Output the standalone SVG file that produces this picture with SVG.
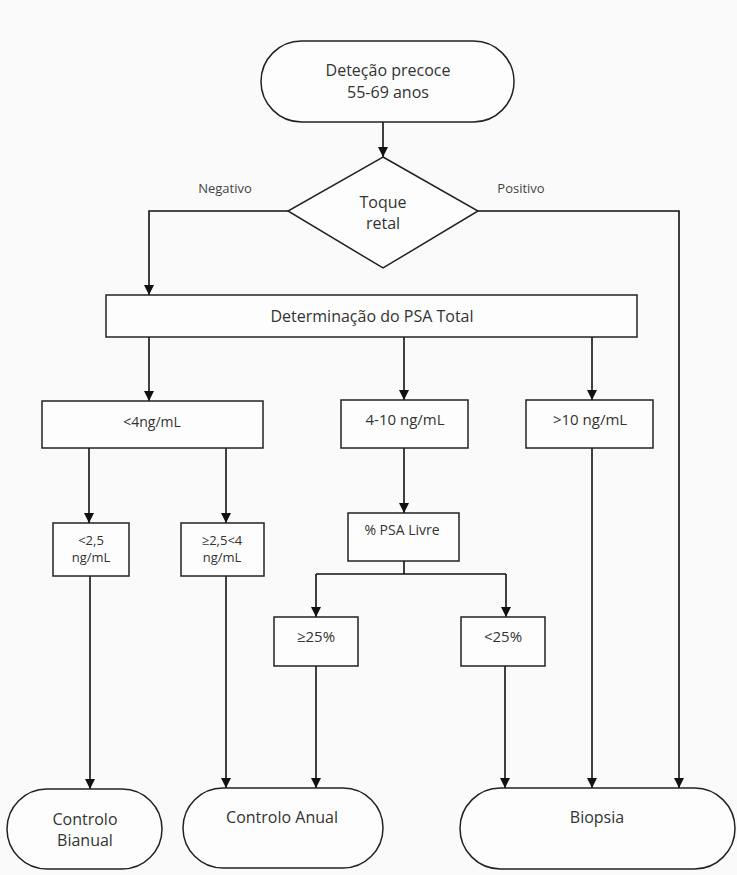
<svg xmlns="http://www.w3.org/2000/svg" width="737" height="875" viewBox="0 0 737 875">
  <defs>
    <marker id="arr" viewBox="0 0 10 10" refX="10" refY="5" markerWidth="10" markerHeight="10" markerUnits="userSpaceOnUse" orient="auto">
      <path d="M0,0 L10,5 L0,10 z" fill="#111"/>
    </marker>
    <style>
      .shape { fill: #fdfdfd; stroke: #222; stroke-width: 1.5; }
      .conn { fill: none; stroke: #111; stroke-width: 1.6; }
      .arrow { marker-end: url(#arr); }
      text { font-family: "Open Sans", "DejaVu Sans", sans-serif; fill: #333; text-anchor: middle; }
      .t16 { font-size: 16px; }
      .t15 { font-size: 15px; }
      .t14 { font-size: 14px; }
      .t13 { font-size: 13px; }
      .lbl { font-size: 13px; fill: #444; }
    </style>
  </defs>
  <rect x="0" y="0" width="737" height="875" fill="#fafafa"/>

  <g id="connectors">
    <path class="conn arrow" d="M383,122 V157"/>
    <path class="conn arrow" d="M288,211 H149 V295"/>
    <path class="conn arrow" d="M478,211 H679 V788"/>
    <path class="conn arrow" d="M149,337 V401"/>
    <path class="conn arrow" d="M404,337 V400"/>
    <path class="conn arrow" d="M592,337 V400"/>
    <path class="conn arrow" d="M89,448 V523"/>
    <path class="conn arrow" d="M226,448 V523"/>
    <path class="conn arrow" d="M404,448 V513"/>
    <path class="conn" d="M404,561 V574 M316,574 H506"/>
    <path class="conn arrow" d="M316,574 V617"/>
    <path class="conn arrow" d="M506,574 V617"/>
    <path class="conn arrow" d="M90,576 V789"/>
    <path class="conn arrow" d="M226,576 V788"/>
    <path class="conn arrow" d="M316,666 V788"/>
    <path class="conn arrow" d="M505,666 V788"/>
    <path class="conn arrow" d="M592,448 V788"/>
    <text class="lbl" x="225" y="193">Negativo</text>
    <text class="lbl" x="521" y="193">Positivo</text>
  </g>

  <g id="start">
    <rect class="shape" x="261" y="41" width="253" height="81" rx="40.5" ry="40.5"/>
    <text class="t16" x="388" y="76">Deteção precoce</text>
    <text class="t16" x="388" y="98">55-69 anos</text>
  </g>

  <g id="toque">
    <polygon class="shape" points="383,157 478,211 383,268 288,211"/>
    <text class="t16" x="383" y="208">Toque</text>
    <text class="t16" x="383" y="229">retal</text>
  </g>

  <g id="psa-total">
    <rect class="shape" x="106" y="295" width="531" height="42"/>
    <text class="t16" x="372" y="322">Determinação do PSA Total</text>
  </g>

  <g id="lt4">
    <rect class="shape" x="42" y="401" width="221" height="47"/>
    <text class="t14" x="152" y="427">&lt;4ng/mL</text>
  </g>

  <g id="r4-10">
    <rect class="shape" x="341" y="400" width="127" height="48"/>
    <text class="t15" x="405" y="425">4-10 ng/mL</text>
  </g>

  <g id="gt10">
    <rect class="shape" x="526" y="400" width="127" height="48"/>
    <text class="t15" x="590" y="425">&gt;10 ng/mL</text>
  </g>

  <g id="lt2-5">
    <rect class="shape" x="53" y="523" width="76" height="53"/>
    <text class="t13" x="91" y="545">&lt;2,5</text>
    <text class="t13" x="91" y="562">ng/mL</text>
  </g>

  <g id="ge2-5">
    <rect class="shape" x="181" y="523" width="83" height="53"/>
    <text class="t13" x="222" y="545">≥2,5&lt;4</text>
    <text class="t13" x="222" y="562">ng/mL</text>
  </g>

  <g id="psa-livre">
    <rect class="shape" x="348" y="513" width="111" height="48"/>
    <text class="t14" x="402" y="535">% PSA Livre</text>
  </g>

  <g id="ge25">
    <rect class="shape" x="274" y="617" width="84" height="49"/>
    <text class="t15" x="316" y="642">≥25%</text>
  </g>

  <g id="lt25">
    <rect class="shape" x="461" y="617" width="84" height="49"/>
    <text class="t15" x="503" y="642">&lt;25%</text>
  </g>

  <g id="bianual">
    <rect class="shape" x="7" y="789" width="155" height="80" rx="40" ry="40"/>
    <text class="t16" x="85" y="825">Controlo</text>
    <text class="t16" x="85" y="846">Bianual</text>
  </g>

  <g id="anual">
    <rect class="shape" x="183" y="788" width="200" height="80" rx="40" ry="40"/>
    <text class="t16" x="282" y="823">Controlo Anual</text>
  </g>

  <g id="biopsia">
    <rect class="shape" x="460" y="788" width="275" height="81" rx="40.5" ry="40.5"/>
    <text class="t16" x="597" y="823">Biopsia</text>
  </g>
</svg>
